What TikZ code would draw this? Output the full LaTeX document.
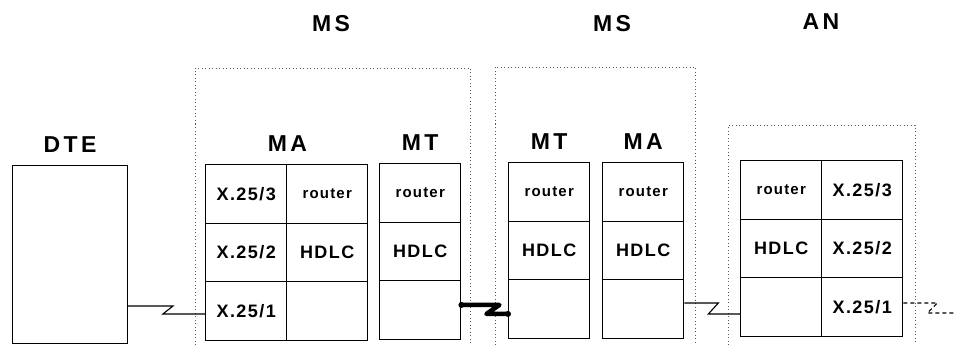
\documentclass[tikz,border=0pt]{standalone}
\usepackage{fontspec}
\setmainfont{Liberation Sans}
\newfontfamily\lblfont[LetterSpace=15]{Liberation Sans}
\newfontfamily\cellfont[LetterSpace=8]{Liberation Sans}
\usetikzlibrary{positioning}
\newcommand\rtr{\fontsize{15}{15}\selectfont router}

\begin{document}
\begin{tikzpicture}[x=1pt,y=-1pt,
  cell/.style={draw,line width=1.4pt,minimum width=81pt,minimum height=58.5pt,
    inner sep=0pt,anchor=north west,
    font=\cellfont\bfseries\fontsize{18}{18}\selectfont},
  lbl/.style={inner sep=0pt,font=\lblfont\bfseries\fontsize{23}{23}\selectfont},
  link/.style={line width=1.1pt},
  radio/.style={line width=4.5pt,line join=round},
  frame/.style={gray!70!black,line width=0.9pt,dash pattern=on 1pt off 2.5pt}]
\useasboundingbox (0,0) rectangle (954,345);
% station frames
\draw[frame] (195,345) -- (195,68) -- (470,68) -- (470,345);
\draw[frame] (495,345) -- (495,67) -- (695,67) -- (695,345);
\draw[frame] (728,345) -- (728,125) -- (915,125) -- (915,345);
\node[lbl] (msA) at (331,24) {MS};
\node[lbl] (msB) at (612,24) {MS};
\node[lbl] (anLbl) at (821,22) {AN};
% terminal
\node[draw,line width=1.2pt,minimum width=115pt,minimum height=178pt,
  inner sep=0pt,anchor=north west] (dte) at (12,165) {};
\node[lbl,above=12pt of dte.north] (dteLbl) {DTE};
% protocol stacks, one column each (row 3 on top)
\foreach \nm/\x/\y/\ta/\tb/\tc in {maX/205/164/{X.25/3}/{X.25/2}/{X.25/1},
  maR/286/164/\rtr/HDLC/{},mtA/379/163/\rtr/HDLC/{},
  mtB/508/162/\rtr/HDLC/{},maB/602/162/\rtr/HDLC/{},
  anR/740/160/\rtr/HDLC/{},anX/821/160/{X.25/3}/{X.25/2}/{X.25/1}}{
  \node[cell] (\nm3) at (\x,\y) {\ta};
  \node[cell] (\nm2) at (\x,\y+58.5) {\tb};
  \node[cell] (\nm1) at (\x,\y+117) {\tc};
}
\node[lbl,above=12pt of maX3.north east] (maLbl) {MA};
\node[lbl,above=12pt of mtA3.north] (mtaLbl) {MT};
\node[lbl,above=12pt of mtB3.north] (mtbLbl) {MT};
\node[lbl,above=12pt of maB3.north] (mabLbl) {MA};
% DTE to MA
\path ([yshift=-3pt]maX1.west) ++(-42,0) ++(10,-8) coordinate (zA);
\draw[link] ([yshift=-3pt]maX1.west) -- ++(-42,0) -- (zA) -- (zA -| dte.east);
% radio link MT to MT
\path ([yshift=5pt]mtA1.east) ++(38,0) ++(-13,9) coordinate (zB);
\draw[radio] ([yshift=5pt]mtA1.east) -- ++(38,0) -- (zB) -- (zB -| mtB1.west);
\fill ([yshift=5pt]mtA1.east) circle (3pt) (zB -| mtB1.west) circle (3pt);
% MA to AN
\path ([yshift=6pt]maB1.east) ++(34,0) ++(-10,11) coordinate (zC);
\draw[link] ([yshift=6pt]maB1.east) -- ++(34,0) -- (zC) -- (zC -| anR1.west);
% AN onwards
\path ([yshift=4pt]anX1.east) ++(34,0) ++(-10,10) coordinate (zD);
\coordinate (lineEnd) at (zD -| 954,0);
\draw[link,dash pattern=on 4pt off 3pt] ([yshift=4pt]anX1.east) -- ++(34,0)
  -- (zD) -- (lineEnd);
\end{tikzpicture}
\end{document}
